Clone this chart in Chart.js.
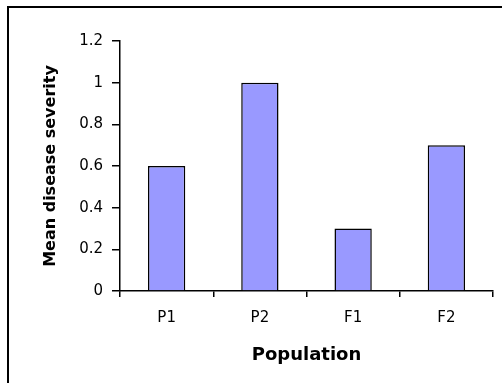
<!DOCTYPE html>
<html>
<head>
<meta charset="utf-8">
<script src="https://cdn.jsdelivr.net/npm/chart.js@4/dist/chart.umd.min.js"></script>
<style>
  html, body { margin: 0; padding: 0; background: #fff; overflow: hidden; }
</style>
</head>
<body>
<canvas id="severityChart" width="504" height="383"></canvas>
<script>
const populations = ["P1", "P2", "F1", "F2"];
const meanSeverity = [0.6, 1.0, 0.3, 0.7];
const yTicks = [0, 0.2, 0.4, 0.6, 0.8, 1, 1.2];

// outer frame: only the top and left edges show in the picture
const framePlugin = {
  id: 'frame',
  afterDraw: (chart) => {
    const c = chart.ctx;
    c.save();
    c.fillStyle = "#000";
    c.fillRect(7, 6, 2, chart.height - 6);
    c.fillRect(7, 6, chart.width - 9, 2);
    c.restore();
  }
};

const ctx = document.getElementById('severityChart');

const severityChart = new Chart(ctx, {
  type: 'bar',
  data: {
    labels: populations,
    datasets: [{
      label: 'Mean disease severity',
      data: meanSeverity,
      backgroundColor: "#9999ff",
      borderColor: "#000000",
      borderWidth: 1.5,
      barPercentage: 0.4,
      categoryPercentage: 1,
    }]
  },
  plugins: [framePlugin],
  options: {
    responsive: false,
    animation: false,
    devicePixelRatio: 1,
    layout: { padding: { top: 41, right: 11, left: 0, bottom: 0 } },
    plugins: {
      legend: { display: false },
      tooltip: { enabled: false },
    },
    scales: {
      x: {
        afterFit: (scale) => { scale.height = 92; },
        grid: { offset: true, drawOnChartArea: false, drawTicks: true, tickLength: 6, color: "#000", lineWidth: 1.5 },
        border: { color: "#000", width: 1.5 },
        ticks: { color: "#000", padding: 12, font: { family: "DejaVu Sans", size: 15 } },
        title: {
          display: true,
          text: "Population",
          color: "#000",
          font: { family: "DejaVu Sans", size: 18, weight: "bold" },
          padding: { top: 0, bottom: 17 },
        },
      },
      y: {
        min: 0,
        max: 1.2,
        afterFit: (scale) => { scale.width = 120; },
        afterBuildTicks: (scale) => { scale.ticks = yTicks.map(v => ({ value: v })); },
        grid: { drawOnChartArea: false, drawTicks: true, tickLength: 8, color: "#000", lineWidth: 1.5 },
        border: { color: "#000", width: 1.5 },
        ticks: {
          color: "#000",
          padding: 9,
          font: { family: "DejaVu Sans", size: 15 },
          callback: (v) => String(+v.toFixed(1)),
        },
        title: {
          display: true,
          text: "Mean disease severity",
          color: "#000",
          font: { family: "DejaVu Sans", size: 16, weight: "bold" },
          padding: { top: 41, bottom: 0 },
        },
      },
    },
  },
});
</script>
</body>
</html>
